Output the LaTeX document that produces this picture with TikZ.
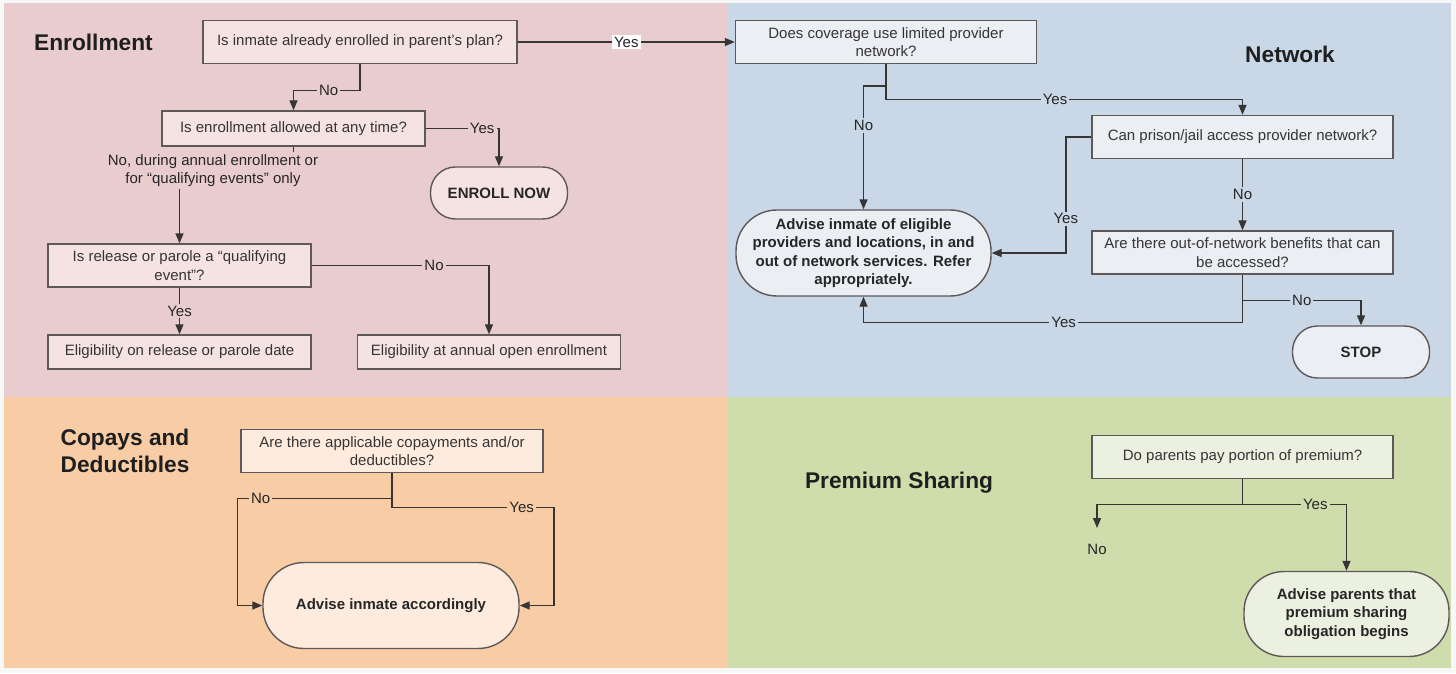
\documentclass[tikz,border=0pt]{standalone}
\usepackage{fontspec}
\setmainfont{Liberation Sans}
\usepackage{tikz}
\usetikzlibrary{arrows.meta, positioning, calc}
\definecolor{mydark}{RGB}{55,52,52}
\definecolor{myedge}{RGB}{95,88,88}
\definecolor{paper}{RGB}{247,247,247}
\definecolor{bgpink}{RGB}{233,205,206}
\definecolor{boxpink}{RGB}{245,227,227}
\definecolor{bgblue}{RGB}{201,215,230}
\definecolor{boxblue}{RGB}{235,238,243}
\definecolor{bgpeach}{RGB}{248,205,166}
\definecolor{boxpeach}{RGB}{253,236,222}
\definecolor{bggreen}{RGB}{207,220,172}
\definecolor{boxgreen}{RGB}{236,240,224}
\newcommand{\boxfont}{\fontsize{4.27}{5.2}\selectfont}
\newcommand{\hdrfont}{\fontsize{6.46}{7.7}\selectfont\bfseries}
\tikzset{
  qbox/.style={rectangle, draw=myedge, line width=0.4pt, align=center,
    inner sep=0pt, font=\boxfont, text=mydark},
  endbox/.style={rectangle, draw=myedge, line width=0.4pt, align=center,
    inner sep=0pt, font=\boxfont\bfseries, text=black!85},
  arrow/.style={-{Triangle[length=0.1cm, width=0.08cm]}, line width=0.4pt, color=mydark},
  lbl/.style={font=\boxfont, inner sep=0.6pt, fill=#1, text=black!85},
  lbl/.default=bgpink,
  header/.style={font=\hdrfont, align=left, inner sep=0pt, text=black!88}
}

\begin{document}
\begin{tikzpicture}
  \useasboundingbox (0,0) rectangle (14.56,-6.73);
  % Backgrounds
  \fill[paper] (0,0) rectangle (14.56,-6.73);
  \fill[bgpink] (0.04,-0.03) rectangle (7.27,-3.97);
  \fill[bgblue] (7.27,-0.03) rectangle (14.51,-3.97);
  \fill[bgpeach] (0.04,-3.97) rectangle (7.27,-6.68);
  \fill[bggreen] (7.27,-3.97) rectangle (14.51,-6.68);

  % Enrollment
  \node[header, anchor=west] (tEnroll) at (0.335,-0.42) {Enrollment};
  \node[qbox, fill=boxpink, minimum width=3.14cm, minimum height=0.43cm] (q1) at (3.60,-0.42) {Is inmate already enrolled in parent’s plan?};
  \node[qbox, fill=boxpink, minimum width=2.63cm, minimum height=0.35cm] (q2) at (2.935,-1.285) {Is enrollment allowed at any time?};
  \node[endbox, fill=boxpink, minimum width=1.37cm, minimum height=0.52cm, rounded corners=0.25cm] (enroll) at (4.99,-1.93) {ENROLL NOW};
  \node[qbox, fill=boxpink, minimum width=2.63cm, minimum height=0.43cm] (q3) at (1.795,-2.655) {Is release or parole a “qualifying\\event”?};
  \node[qbox, fill=boxpink, minimum width=2.63cm, minimum height=0.34cm] (elig1) at (1.795,-3.52) {Eligibility on release or parole date};
  \node[qbox, fill=boxpink, minimum width=2.63cm, minimum height=0.34cm] (elig2) at (4.89,-3.52) {Eligibility at annual open enrollment};

  % Network
  \node[qbox, fill=boxblue, minimum width=3.01cm, minimum height=0.43cm] (n1) at (8.86,-0.42) {Does coverage use limited provider\\network?};
  \node[header] (tNet) at (12.90,-0.54) {Network};
  \node[endbox, fill=boxblue, minimum width=2.55cm, minimum height=0.86cm, rounded corners=0.41cm] (adv1) at (8.635,-2.53) {Advise inmate of eligible\\providers and locations, in and\\out of network services. Refer\\appropriately.};
  \node[qbox, fill=boxblue, minimum width=3.01cm, minimum height=0.43cm] (n2) at (12.425,-1.37) {Can prison/jail access provider network?};
  \node[qbox, fill=boxblue, minimum width=3.01cm, minimum height=0.43cm] (n3) at (12.425,-2.525) {Are there out-of-network benefits that can\\be accessed?};
  \node[endbox, fill=boxblue, minimum width=1.37cm, minimum height=0.52cm, rounded corners=0.25cm] (stop) at (13.61,-3.52) {STOP};

  % Copays and Deductibles
  \node[header, anchor=west] (tCopay) at (0.60,-4.505) {Copays and\\Deductibles};
  \node[qbox, fill=boxpeach, minimum width=3.02cm, minimum height=0.43cm] (c1) at (3.92,-4.51) {Are there applicable copayments and/or\\deductibles?};
  \node[endbox, fill=boxpeach, minimum width=2.56cm, minimum height=0.86cm, rounded corners=0.41cm] (adv2) at (3.91,-6.055) {Advise inmate accordingly};

  % Premium Sharing
  \node[header] (tPrem) at (8.99,-4.83) {Premium Sharing};
  \node[qbox, fill=boxgreen, minimum width=3.01cm, minimum height=0.43cm] (p1) at (12.425,-4.57) {Do parents pay portion of premium?};
  \node[endbox, fill=boxgreen, minimum width=2.05cm, minimum height=0.85cm, rounded corners=0.40cm] (adv3) at (13.465,-6.14) {Advise parents that\\premium sharing\\obligation begins};
  \coordinate (pend) at (10.97,-5.28);
  \node[font=\boxfont, text=black!85] (pno) at (10.97,-5.49) {No};

  % Connections: Enrollment
  \draw[arrow] (q1.east) -- node[lbl=white] {Yes} (n1.west);
  \draw[arrow] (q1.south) -- ++(0,-0.265) -| node[lbl, pos=0.235] {No} (q2.north);
  \draw[arrow] (q2.east) -| node[lbl, pos=0.385] {Yes} (enroll.north);
  \draw[arrow] (q2.south) -- ++(0,-0.24) -| node[lbl, pos=0.353, align=center] {No, during annual enrollment or\\for “qualifying events” only} (q3.north);
  \draw[arrow] (q3.south) -- node[lbl] {Yes} (elig1.north);
  \draw[arrow] (q3.east) -| node[lbl, pos=0.345] {No} (elig2.north);

  % Connections: Network
  \draw[arrow] (n1.south) -- ++(0,-0.355) -| node[lbl=bgblue, pos=0.237] {Yes} (n2.north);
  \draw[arrow] (n1.south) -- ++(0,-0.22) -| node[lbl=bgblue, pos=0.66] {No} (adv1.north);
  \draw[arrow] (n2.west) -- ++(-0.255,0) |- node[lbl=bgblue, pos=0.353] {Yes} (adv1.east);
  \draw[arrow] (n2.south) -- node[lbl=bgblue] {No} (n3.north);
  \draw[arrow] (n3.south) -- ++(0,-0.475) -| node[lbl=bgblue, pos=0.236] {Yes} (adv1.south);
  \draw[arrow] (n3.south) -- ++(0,-0.26) -| node[lbl=bgblue, pos=0.25] {No} (stop.north);

  % Connections: Copays
  \draw[arrow] (c1.south) -- ++(0,-0.255) -- node[lbl=bgpeach, pos=0.85] {No} ++(-1.545,0) |- (adv2.west);
  \draw[arrow] (c1.south) -- ++(0,-0.345) -- node[lbl=bgpeach, pos=0.8] {Yes} ++(1.62,0) |- (adv2.east);

  % Connections: Premium
  \draw[arrow] (p1.south) -- ++(0,-0.255) -| (pend);
  \draw[arrow] (p1.south) -- ++(0,-0.255) -| node[lbl=bggreen, pos=0.35] {Yes} (adv3.north);
\end{tikzpicture}
\end{document}
